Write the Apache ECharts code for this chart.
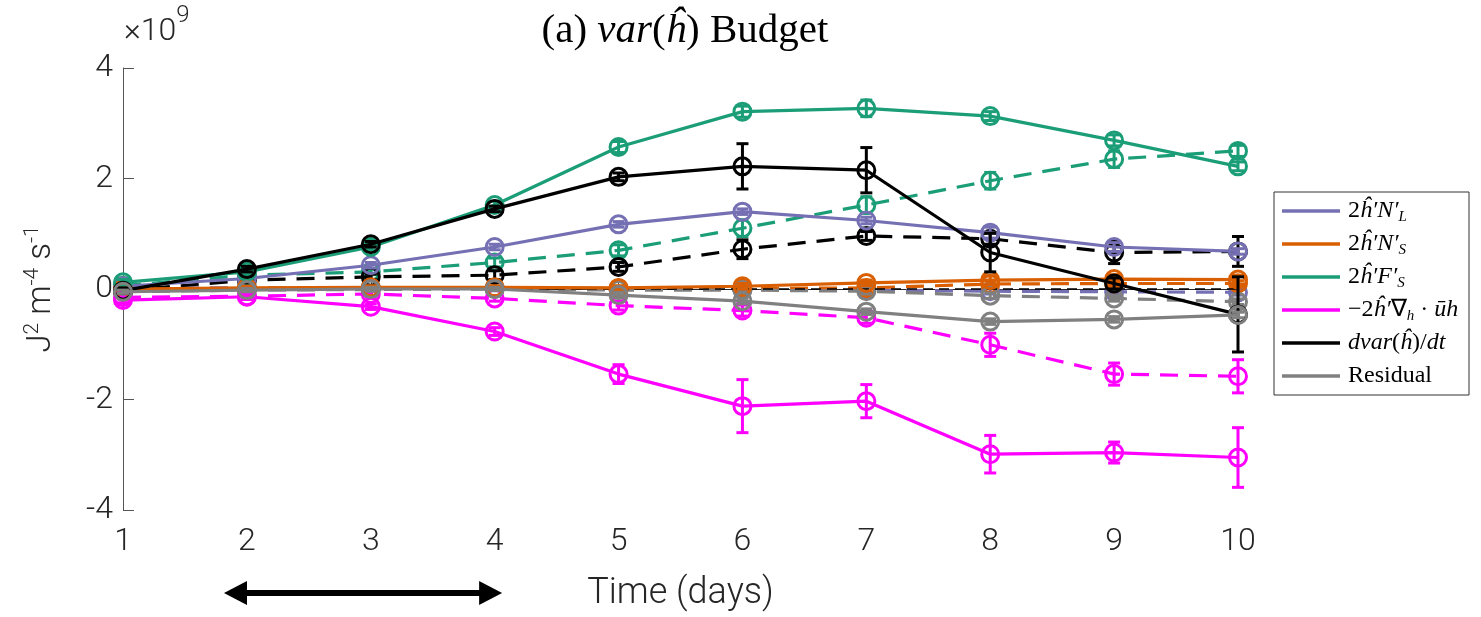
<!DOCTYPE html>
<html>
<head>
<meta charset="utf-8">
<script src="https://cdn.jsdelivr.net/npm/echarts@6/dist/echarts.min.js"></script>
<style>html,body{margin:0;padding:0;background:#fff}#c{width:1481px;height:617px}</style>
</head>
<body>
<div id="c"></div>
<script>
// ---- data (units of 1e9 J^2 m^-4 s^-1) ----
const days = [1, 2, 3, 4, 5, 6, 7, 8, 9, 10];
const xTicks = [1, 2, 3, 4, 5, 6, 7, 8, 9, 10];
const yTicks = [-4, -2, 0, 2, 4];

const NL      = [0.05, 0.19, 0.43, 0.76, 1.17, 1.40, 1.24, 1.02, 0.76, 0.68];
const NS      = [0.00, 0.02, 0.03, 0.03, 0.02, 0.05, 0.11, 0.16, 0.18, 0.17];
const FS      = [0.12, 0.31, 0.76, 1.52, 2.57, 3.21, 3.27, 3.13, 2.69, 2.22];
const DIV     = [-0.20, -0.14, -0.32, -0.77, -1.54, -2.12, -2.03, -2.99, -2.96, -3.05];
const DVAR    = [-0.03, 0.36, 0.81, 1.45, 2.03, 2.22, 2.15, 0.66, 0.10, -0.46];
const RES     = [-0.05, -0.02, 0.00, 0.00, -0.11, -0.22, -0.41, -0.59, -0.55, -0.47];

const NLd     = [0.02, 0.02, 0.02, 0.01, 0.00, -0.01, -0.02, -0.04, -0.05, -0.06];
const NSd     = [0.00, 0.01, 0.01, 0.01, 0.01, 0.01, 0.02, 0.09, 0.10, 0.10];
const FSd     = [0.06, 0.25, 0.31, 0.48, 0.70, 1.10, 1.52, 1.96, 2.35, 2.50];
const DIVd    = [-0.15, -0.13, -0.09, -0.17, -0.30, -0.39, -0.52, -1.01, -1.54, -1.58];
const DVARd   = [-0.03, 0.16, 0.22, 0.25, 0.40, 0.72, 0.96, 0.91, 0.66, 0.68];
const RESd    = [-0.05, -0.02, -0.01, 0.00, -0.02, -0.02, -0.04, -0.12, -0.17, -0.23];

const errNL   = [0.03, 0.03, 0.05, 0.05, 0.05, 0.05, 0.06, 0.10, 0.08, 0.05];
const errNS   = [0.03, 0.03, 0.03, 0.03, 0.04, 0.05, 0.05, 0.08, 0.08, 0.08];
const errFS   = [0.05, 0.05, 0.05, 0.07, 0.10, 0.10, 0.15, 0.08, 0.10, 0.08];
const errDIV  = [0.05, 0.05, 0.05, 0.07, 0.17, 0.48, 0.30, 0.34, 0.19, 0.54];
const errDVAR = [0.05, 0.05, 0.05, 0.05, 0.07, 0.41, 0.41, 0.35, 0.10, 0.68];
const errRES  = [0.03, 0.03, 0.03, 0.03, 0.05, 0.05, 0.05, 0.05, 0.05, 0.05];

const errNLd   = [0.03, 0.03, 0.03, 0.03, 0.03, 0.04, 0.05, 0.05, 0.05, 0.05];
const errNSd   = [0.03, 0.03, 0.03, 0.03, 0.03, 0.04, 0.05, 0.05, 0.05, 0.05];
const errFSd   = [0.03, 0.05, 0.05, 0.08, 0.10, 0.15, 0.15, 0.15, 0.15, 0.10];
const errDIVd  = [0.03, 0.03, 0.05, 0.05, 0.08, 0.10, 0.10, 0.21, 0.20, 0.30];
const errDVARd = [0.03, 0.05, 0.05, 0.08, 0.08, 0.17, 0.08, 0.10, 0.20, 0.27];
const errRESd  = [0.03, 0.03, 0.03, 0.03, 0.03, 0.04, 0.05, 0.05, 0.05, 0.05];

const zeroLine = [0, 0];
const zeroDays = [1, 10];
const arrowDays = [1.815, 4.06];

const names = ['NL', 'NS', 'FS', 'DIV', 'DVAR', 'RES'];
const colors = {NL: '#7570b3', NS: '#d95f02', FS: '#1b9e77', DIV: '#ff00ff', DVAR: '#000000', RES: '#808080'};
const legendText = {
  NL:   '{r|2}{i|ĥ′N′}{s|L}',
  NS:   '{r|2}{i|ĥ′N′}{s|S}',
  FS:   '{r|2}{i|ĥ′F′}{s|S}',
  DIV:  '{r|−2}{i|ĥ′}{r|∇}{s|h}{r| · }{i|ūh}',
  DVAR: '{i|dvar}{r|(}{i|ĥ}{r|)/}{i|dt}',
  RES:  '{r|Residual}'
};

const solid = {NL: [NL, errNL], NS: [NS, errNS], FS: [FS, errFS], DIV: [DIV, errDIV], DVAR: [DVAR, errDVAR], RES: [RES, errRES]};
const dashed = {NL: [NLd, errNLd], NS: [NSd, errNSd], FS: [FSd, errFSd], DIV: [DIVd, errDIVd], DVAR: [DVARd, errDVARd], RES: [RESd, errRESd]};

function errRender(color) {
  return function (params, api) {
    const x = api.value(0), y = api.value(1), e = api.value(2);
    const hi = api.coord([x, y + e]), lo = api.coord([x, y - e]);
    const w = 6;
    const st = {stroke: color, lineWidth: 3};
    return {type: 'group', children: [
      {type: 'line', shape: {x1: hi[0], y1: hi[1], x2: lo[0], y2: lo[1]}, style: st},
      {type: 'line', shape: {x1: hi[0] - w, y1: hi[1], x2: hi[0] + w, y2: hi[1]}, style: st},
      {type: 'line', shape: {x1: lo[0] - w, y1: lo[1], x2: lo[0] + w, y2: lo[1]}, style: st}
    ]};
  };
}

const series = [];
let z = 2;
function addSet(name, vals, errs, isDashed) {
  const c = colors[name];
  series.push({
    name: isDashed ? name + '_d' : name,
    type: 'line',
    data: days.map((d, i) => [d, vals[i]]),
    symbol: 'circle', symbolSize: 17,
    itemStyle: {color: 'rgba(0,0,0,0)', borderColor: c, borderWidth: 3},
    lineStyle: {color: c, width: 3.2, type: isDashed ? [18, 11] : 'solid'},
    z: z, silent: true, animation: false
  });
  series.push({
    type: 'custom',
    data: days.map((d, i) => [d, vals[i], errs[i]]),
    renderItem: errRender(c),
    z: z, silent: true, animation: false
  });
  z++;
}
names.forEach(n => addSet(n, dashed[n][0], dashed[n][1], true));
series.push({
  type: 'line', data: zeroDays.map((d, i) => [d, zeroLine[i]]), symbol: 'none',
  lineStyle: {color: '#000', width: 1.3, type: [10, 6]}, z: z++, silent: true, animation: false
});
names.forEach(n => addSet(n, solid[n][0], solid[n][1], false));
series.push({
  type: 'custom', clip: false, silent: true, animation: false, z: 20,
  data: [[arrowDays[0], arrowDays[1]]],
  encode: {x: [0, 1]},
  renderItem: function (params, api) {
    const p1 = api.coord([api.value(0), -4]);
    const p2 = api.coord([api.value(1), -4]);
    const y = p1[1] + 83;
    const L = 23, H = 12;
    return {type: 'group', children: [
      {type: 'line', shape: {x1: p1[0] + L - 2, y1: y, x2: p2[0] - L + 2, y2: y}, style: {stroke: '#000', lineWidth: 6}},
      {type: 'polygon', shape: {points: [[p1[0], y], [p1[0] + L, y - H], [p1[0] + L, y + H]]}, style: {fill: '#000'}},
      {type: 'polygon', shape: {points: [[p2[0], y], [p2[0] - L, y - H], [p2[0] - L, y + H]]}, style: {fill: '#000'}}
    ]};
  }
});

const chart = echarts.init(document.getElementById('c'), null, {renderer: 'canvas'});
const axisFont = {fontFamily: 'Roboto', fontWeight: 300, fontSize: 32, color: '#262626'};
chart.setOption({
  backgroundColor: '#fff',
  animation: false,
  title: {
    text: '{r|(a) }{i|var}{r|(}{i|ĥ}{r|) Budget}',
    left: 680, top: 6, textAlign: 'center',
    textStyle: {
      fontWeight: 'normal',
      rich: {
        r: {fontFamily: 'Liberation Serif', fontWeight: 'normal', fontSize: 41, color: '#000'},
        i: {fontFamily: 'Liberation Serif', fontWeight: 'normal', fontStyle: 'italic', fontSize: 41, color: '#000'}
      }
    }
  },
  grid: {left: 123, right: 243, top: 68, bottom: 104, containLabel: false},
  xAxis: {
    type: 'value', min: 1, max: 10, interval: 1,
    name: 'Time (days)', nameLocation: 'middle', nameGap: 66,
    nameTextStyle: Object.assign({}, axisFont, {fontSize: 36}),
    axisLine: {show: true, lineStyle: {color: '#262626', width: 1}},
    axisTick: {show: true, inside: true, length: 11, lineStyle: {color: '#555', width: 1}},
    axisLabel: Object.assign({margin: 16, formatter: v => xTicks.includes(v) ? String(v) : ''}, axisFont),
    splitLine: {show: false}
  },
  yAxis: {
    type: 'value', min: -4, max: 4, interval: 2,
    name: '{a|J}{b|2}{a| m}{b|-4}{a| s}{b|-1}', nameLocation: 'middle', nameGap: 61, nameRotate: 90,
    nameTextStyle: {
      rich: {
        a: {fontFamily: 'Roboto', fontWeight: 300, fontSize: 33, color: '#262626', lineHeight: 40},
        b: {fontFamily: 'Roboto', fontWeight: 300, fontSize: 21, color: '#262626', lineHeight: 20, verticalAlign: 'top'}
      }
    },
    axisLine: {show: true, lineStyle: {color: '#555', width: 1}},
    axisTick: {show: true, inside: true, length: 11, lineStyle: {color: '#555', width: 1}},
    axisLabel: Object.assign({margin: 10, formatter: v => yTicks.includes(v) ? String(v) : ''}, axisFont),
    splitLine: {show: false}
  },
  legend: {
    orient: 'vertical', left: 1274, top: 192,
    padding: [5, 8, 5, 8], itemGap: 5, itemWidth: 58, itemHeight: 3.5,
    borderColor: '#333', borderWidth: 1, backgroundColor: '#fff',
    selectedMode: false,
    data: names.map(n => ({name: n, icon: 'rect', itemStyle: {color: colors[n], borderWidth: 0}})),
    formatter: n => legendText[n],
    textStyle: {
      width: 113, padding: [0, 0, 0, 3], lineHeight: 28,
      rich: {
        r: {fontFamily: 'Liberation Serif', fontSize: 24, color: '#000', lineHeight: 28},
        i: {fontFamily: 'Liberation Serif', fontStyle: 'italic', fontSize: 24, color: '#000', lineHeight: 28},
        s: {fontFamily: 'Liberation Serif', fontStyle: 'italic', fontSize: 15, color: '#000', lineHeight: 18, verticalAlign: 'bottom'}
      }
    }
  },
  graphic: [{
    type: 'text', left: 124, top: 4,
    style: {
      text: '{a|×10}{b|9}',
      rich: {
        a: {fontFamily: 'Roboto', fontWeight: 300, fontSize: 32, fill: '#262626', lineHeight: 44, verticalAlign: 'bottom'},
        b: {fontFamily: 'Roboto', fontWeight: 300, fontSize: 24, fill: '#262626', lineHeight: 24, verticalAlign: 'top'}
      }
    }
  }],
  series: series
});
</script>
</body>
</html>
